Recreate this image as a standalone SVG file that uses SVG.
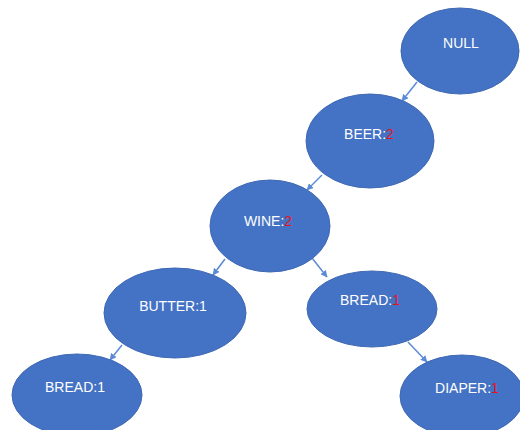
<svg xmlns="http://www.w3.org/2000/svg" width="520" height="430" viewBox="0 0 520 430">
<style>
.n{fill:#4472C4;stroke:#3F69B3;stroke-width:1}
.t{font-family:"Liberation Sans",Arial,sans-serif;font-size:14px;fill:#FFFFFF;text-anchor:middle}
.r{fill:#E8141C}
.c{stroke:#5B8BD6;stroke-width:1.5;fill:none;marker-end:url(#a)}
</style>
<defs>
<marker id="a" viewBox="0 0 10 10" refX="9" refY="5" markerWidth="7" markerHeight="7" markerUnits="userSpaceOnUse" orient="auto">
<path d="M0,0 L10,5 L0,10 z" fill="#5B8BD6"/>
</marker>
</defs>
<rect width="520" height="430" fill="#FFFFFF"/>
<g id="connectors">
<line class="c" x1="417" y1="82" x2="402" y2="101"/>
<line class="c" x1="322" y1="175" x2="307" y2="190"/>
<line class="c" x1="225" y1="259" x2="213" y2="275"/>
<line class="c" x1="312" y1="258" x2="327" y2="277"/>
<line class="c" x1="122" y1="345" x2="110" y2="360"/>
<line class="c" x1="408" y1="342" x2="427" y2="362"/>
</g>
<g id="null">
<ellipse class="n" cx="460" cy="51" rx="59" ry="43"/>
<text class="t" x="461" y="48">NULL</text>
</g>
<g id="beer">
<ellipse class="n" cx="370" cy="141" rx="64" ry="47"/>
<text class="t" x="369" y="139">BEER:<tspan class="r">2</tspan></text>
</g>
<g id="wine">
<ellipse class="n" cx="270" cy="226" rx="60" ry="46"/>
<text class="t" x="268" y="226">WINE:<tspan class="r">2</tspan></text>
</g>
<g id="butter">
<ellipse class="n" cx="175" cy="313" rx="71" ry="45"/>
<text class="t" x="173" y="311">BUTTER:1</text>
</g>
<g id="bread_right">
<ellipse class="n" cx="372" cy="309" rx="65" ry="38"/>
<text class="t" x="370" y="305">BREAD:<tspan class="r">1</tspan></text>
</g>
<g id="bread_left">
<ellipse class="n" cx="77" cy="395" rx="65" ry="41"/>
<text class="t" x="75" y="392">BREAD:1</text>
</g>
<g id="diaper">
<ellipse class="n" cx="462" cy="396" rx="62" ry="41"/>
<text class="t" x="467" y="393">DIAPER:<tspan class="r">1</tspan></text>
</g>
</svg>
